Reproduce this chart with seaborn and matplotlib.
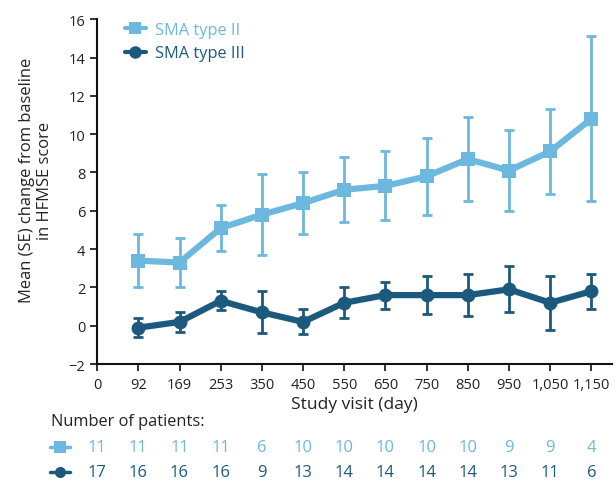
import matplotlib
matplotlib.use("Agg")
import matplotlib.pyplot as plt
import matplotlib.transforms as mtransforms
from matplotlib.lines import Line2D
import numpy as np
import pandas as pd
import seaborn as sns

visits = ["0", "92", "169", "253", "350", "450", "550", "650", "750", "850", "950", "1,050", "1,150"]

type2_mean = [3.4, 3.3, 5.1, 5.8, 6.4, 7.1, 7.3, 7.8, 8.7, 8.1, 9.1, 10.8]
type2_se = [1.4, 1.3, 1.2, 2.1, 1.6, 1.7, 1.8, 2.0, 2.2, 2.1, 2.2, 4.3]
type3_mean = [-0.1, 0.2, 1.3, 0.7, 0.2, 1.2, 1.6, 1.6, 1.6, 1.9, 1.2, 1.8]
type3_se = [0.5, 0.5, 0.5, 1.1, 0.65, 0.8, 0.7, 1.0, 1.1, 1.2, 1.4, 0.9]

# patients per visit, day 0 included
type2_n = [11, 11, 11, 11, 6, 10, 10, 10, 10, 10, 9, 9, 4]
type3_n = [17, 16, 16, 16, 9, 13, 14, 14, 14, 14, 13, 11, 6]

light = "#6cb8df"
dark = "#1c5a7d"
txt = "#222222"

sns.set_style("ticks")
plt.rcParams["font.family"] = ["Open Sans", "DejaVu Sans"]

fig = plt.figure(figsize=(6.15, 4.81), dpi=100)
ax = fig.add_axes([0.158, 0.241, 0.837, 0.717])

pos = np.arange(1, len(visits))
df = pd.DataFrame({
    "pos": np.concatenate([pos, pos]),
    "mean": type2_mean + type3_mean,
    "se": type2_se + type3_se,
    "group": ["SMA type II"] * len(pos) + ["SMA type III"] * len(pos),
})

for grp, col in [("SMA type II", light), ("SMA type III", dark)]:
    d = df[df["group"] == grp]
    ax.errorbar(d["pos"], d["mean"], yerr=d["se"], fmt="none", ecolor=col,
                elinewidth=2, capsize=3.8, capthick=2, zorder=2)

sns.lineplot(data=df, x="pos", y="mean", hue="group", style="group",
             palette={"SMA type II": light, "SMA type III": dark},
             markers={"SMA type II": "s", "SMA type III": "o"}, dashes=False,
             linewidth=4.5, markersize=10, markeredgewidth=0, ax=ax, zorder=3,
             legend=False)

ax.set_xlim(0, 12.5)
ax.set_ylim(-2, 16)
ax.set_xticks(np.arange(len(visits)))
ax.set_xticklabels(visits)
ax.set_yticks(np.arange(-2, 17, 2))
ax.set_yticklabels([("\u2212" + str(-v)) if v < 0 else str(v) for v in range(-2, 17, 2)])
ax.tick_params(axis="both", labelsize=10.5, length=5, width=1.3, colors=txt)
ax.tick_params(axis="x", pad=4)
for s in ["left", "bottom"]:
    ax.spines[s].set_linewidth(1.5)
    ax.spines[s].set_color("#111111")
sns.despine(ax=ax)
ax.set_xlabel("Study visit (day)", fontsize=12.5, color=txt, labelpad=3)
ax.set_ylabel("")
# two-line y label, both lines centred
ax.text(-0.136, 0.535, "Mean (SE) change from baseline", transform=ax.transAxes,
        rotation=90, ha="center", va="center", fontsize=11.9, color=txt)
ax.text(-0.101, 0.535, "in HFMSE score", transform=ax.transAxes,
        rotation=90, ha="center", va="center", fontsize=11.9, color=txt)

# legend
handles = [Line2D([], [], color=light, marker="s", lw=3, markersize=9, markeredgewidth=0),
           Line2D([], [], color=dark, marker="o", lw=3, markersize=9, markeredgewidth=0)]
leg = ax.legend(handles, ["SMA type II", "SMA type III"], loc="upper left",
                bbox_to_anchor=(0.025, 1.035), frameon=False, fontsize=11.8,
                handlelength=1.3, handletextpad=0.55, labelspacing=0.45)
for t, c in zip(leg.get_texts(), [light, dark]):
    t.set_color(c)

# number of patients table
tr = mtransforms.blended_transform_factory(ax.transData, fig.transFigure)
fig.text(0.083, 1 - 422 / 481, "Number of patients:", fontsize=11.8, color=txt,
         va="center", ha="left")
for n_list, col, mk, yy in [(type2_n, light, "s", 1 - 448 / 481),
                            (type3_n, dark, "o", 1 - 473 / 481)]:
    for i, n in enumerate(n_list):
        ax.text(i, yy, str(n), transform=tr, fontsize=12, color=col,
                ha="center", va="center", clip_on=False)
    ax.add_line(Line2D([0.081, 0.114], [yy, yy], color=col, lw=2.5,
                       transform=fig.transFigure, clip_on=False))
    ax.add_line(Line2D([0.0975], [yy], color=col, marker=mk, markersize=8,
                       markeredgewidth=0, transform=fig.transFigure, clip_on=False))

fig.savefig("out.png", dpi=100)
